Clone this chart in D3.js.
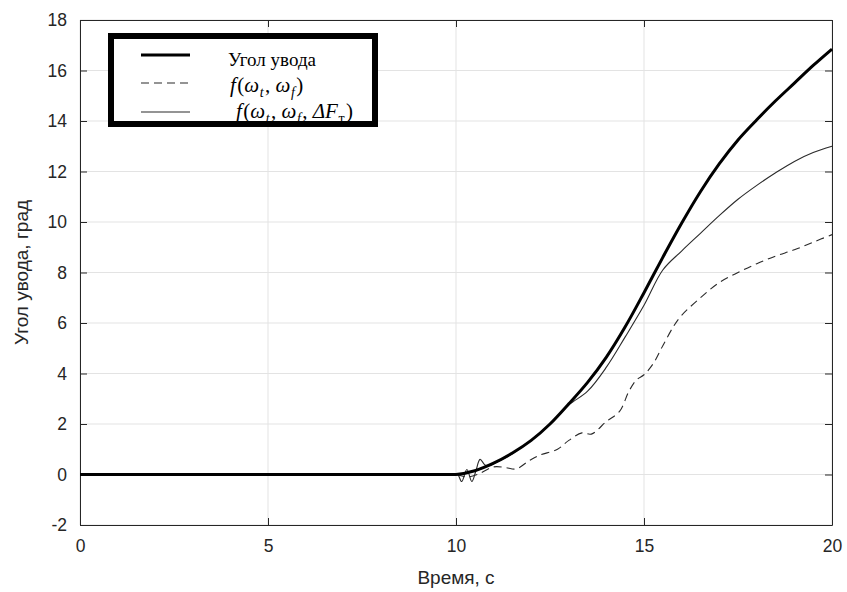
<!DOCTYPE html>
<html><head><meta charset="utf-8">
<script src="https://cdn.jsdelivr.net/npm/d3@7"></script>
<style>body{margin:0;background:#fff}svg{display:block}</style>
</head><body>
<svg id="c" width="847" height="592"></svg>
<script>
const xTicks = [0,5,10,15,20];
const yTicks = [-2,0,2,4,6,8,10,12,14,16,18];

const tMain = [0,9.5,9.9,10,10.5,11,11.5,12,12.5,13,13.5,14,14.5,15,15.5,16,16.5,17,17.5,18,18.5,19,19.5,20];
const vMain = [0,0,0,0,0.15,0.45,0.85,1.35,2.0,2.8,3.65,4.65,5.85,7.2,8.6,9.95,11.2,12.3,13.25,14.05,14.8,15.5,16.2,16.85];

const tDash = [0,9.5,9.9,10,10.3,10.6,11,11.3,11.6,11.9,12.2,12.7,13.0,13.35,13.6,14.0,14.35,14.6,14.8,15.0,15.25,15.5,15.8,16,16.5,17,17.5,18,18.5,19,19.5,20];
const vDash = [0,0,0,0,-0.1,0.02,0.3,0.28,0.22,0.5,0.75,1.0,1.35,1.65,1.6,2.1,2.5,3.3,3.75,3.95,4.4,5.1,5.9,6.3,7.0,7.6,8.0,8.35,8.65,8.9,9.2,9.5];

const tThin = [0,9.5,9.9,10,10.05,10.15,10.29,10.42,10.53,10.64,10.77,10.9,11,11.5,12,12.5,13,13.5,14,14.5,15,15.5,16,16.5,17,17.5,18,18.5,19,19.5,20];
const vThin = [0,0,0,0,0,-0.28,0.2,-0.28,0.15,0.6,0.38,0.35,0.42,0.82,1.35,2.0,2.75,3.3,4.25,5.45,6.7,8.1,8.85,9.55,10.25,10.9,11.45,11.95,12.4,12.75,13.0];

const legendLabels = ["Угол увода", "f(ω_t, ω_f)", "f(ω_t, ω_f, ΔF_т)"];

const svg = d3.select("#c");
const L = 80, R = 832, T = 20, B = 525;
const x = d3.scaleLinear().domain([0,20]).range([L,R]);
const y = d3.scaleLinear().domain([-2,18]).range([B,T]);
const tc = "#262626";

// grid
const g = svg.append("g");
g.selectAll("line.gx").data(xTicks).join("line")
  .attr("x1",d=>x(d)).attr("x2",d=>x(d)).attr("y1",T).attr("y2",B)
  .attr("stroke","#e3e3e3").attr("stroke-width",1);
g.selectAll("line.gy").data(yTicks).join("line")
  .attr("y1",d=>y(d)).attr("y2",d=>y(d)).attr("x1",L).attr("x2",R)
  .attr("stroke","#e3e3e3").attr("stroke-width",1);

// axes
const fontAx = "'Liberation Sans', Arial, sans-serif";
function styleAxis(sel){
  sel.selectAll("path").attr("stroke",tc).attr("stroke-width",1);
  sel.selectAll("line").attr("stroke",tc);
  sel.selectAll("text").attr("fill",tc).style("font-family",fontAx).style("font-size","17.5px");
}
svg.append("g").attr("transform",`translate(0,${B})`)
  .call(d3.axisBottom(x).tickValues(xTicks).tickSizeInner(-7).tickSizeOuter(0).tickPadding(15).tickFormat(d3.format("d")))
  .call(styleAxis);
svg.append("g").attr("transform",`translate(${L},0)`)
  .call(d3.axisLeft(y).tickValues(yTicks).tickSizeInner(-7).tickSizeOuter(0).tickPadding(13).tickFormat(d=>d<0?"-"+Math.abs(d):d))
  .call(styleAxis);
svg.append("g").attr("transform",`translate(0,${T})`)
  .call(d3.axisTop(x).tickValues(xTicks).tickSizeInner(-7).tickSizeOuter(0).tickFormat(""))
  .call(styleAxis);
svg.append("g").attr("transform",`translate(${R},0)`)
  .call(d3.axisRight(y).tickValues(yTicks).tickSizeInner(-7).tickSizeOuter(0).tickFormat(""))
  .call(styleAxis);

// series
const line = d3.line().x(d=>x(d[0])).y(d=>y(d[1])).curve(d3.curveCatmullRom.alpha(0.5));
const zip = (a,b)=>a.map((v,i)=>[v,b[i]]);
svg.append("path").datum(zip(tDash,vDash)).attr("d",line)
  .attr("fill","none").attr("stroke","#2a2a2a").attr("stroke-width",1.1).attr("stroke-dasharray","8,5");
svg.append("path").datum(zip(tThin,vThin)).attr("d",line)
  .attr("fill","none").attr("stroke","#2a2a2a").attr("stroke-width",1.1);
svg.append("path").datum(zip(tMain,vMain)).attr("d",line)
  .attr("fill","none").attr("stroke","#000").attr("stroke-width",3);

// axis labels
svg.append("text").attr("x",(L+R)/2).attr("y",584).attr("text-anchor","middle")
  .attr("fill",tc).style("font-family",fontAx).style("font-size","19px").text("Время, с");
svg.append("text").attr("transform",`translate(28,${(T+B)/2}) rotate(-90)`).attr("text-anchor","middle")
  .attr("fill",tc).style("font-family",fontAx).style("font-size","19px").text("Угол увода, град");

// legend
const ox0 = 108, oy0 = 33, ox1 = 378, oy1 = 127, bw = 6;
svg.append("defs").append("clipPath").attr("id","lc").append("rect")
  .attr("x",ox0+bw).attr("y",oy0+bw).attr("width",ox1-ox0-2*bw).attr("height",oy1-oy0-2*bw);
const lg = svg.append("g");
lg.append("rect").attr("x",ox0).attr("y",oy0).attr("width",ox1-ox0).attr("height",oy1-oy0).attr("fill","#fff");
const lys = [55,83,112];
const styles = [{w:3,c:"#000",d:null},{w:1.1,c:"#2a2a2a",d:"8,5"},{w:1.1,c:"#2a2a2a",d:null}];
lys.forEach((ly,i)=>{
  lg.append("line").attr("x1",141).attr("x2",190).attr("y1",ly).attr("y2",ly)
    .attr("stroke",styles[i].c).attr("stroke-width",styles[i].w).attr("stroke-dasharray",styles[i].d);
});
const serif = "'Liberation Serif','Times New Roman',serif";
const tg = lg.append("g").attr("clip-path","url(#lc)");
tg.append("text").attr("x",228).attr("y",66).style("font-family",serif).style("font-size","19px").text(legendLabels[0]);
function mathText(xp, yp, label){
  const t = tg.append("text").attr("x",xp).attr("y",yp).style("font-family",serif).style("font-size","21px").attr("fill","#000");
  let cur = 0, sub = false;
  for(const c of label){
    if(c === "_"){ sub = true; continue; }
    const off = sub ? 5 : 0;
    const ts = t.append("tspan").attr("dy", off - cur).text(c === " " ? "\u00a0" : c);
    cur = off;
    const upright = /[(),\s]/.test(c) || /[а-я]/.test(c);
    ts.style("font-style", upright ? "normal" : "italic");
    if(sub) ts.style("font-size","14px").attr("dx",0.5);
    if(/[(),]/.test(c)) ts.attr("dx",1.5);
    sub = false;
  }
}
mathText(230,92,legendLabels[1]);
mathText(236,118,legendLabels[2]);
lg.append("rect").attr("x",ox0+bw/2).attr("y",oy0+bw/2).attr("width",ox1-ox0-bw).attr("height",oy1-oy0-bw)
  .attr("fill","none").attr("stroke","#000").attr("stroke-width",bw);
</script>
</body></html>
